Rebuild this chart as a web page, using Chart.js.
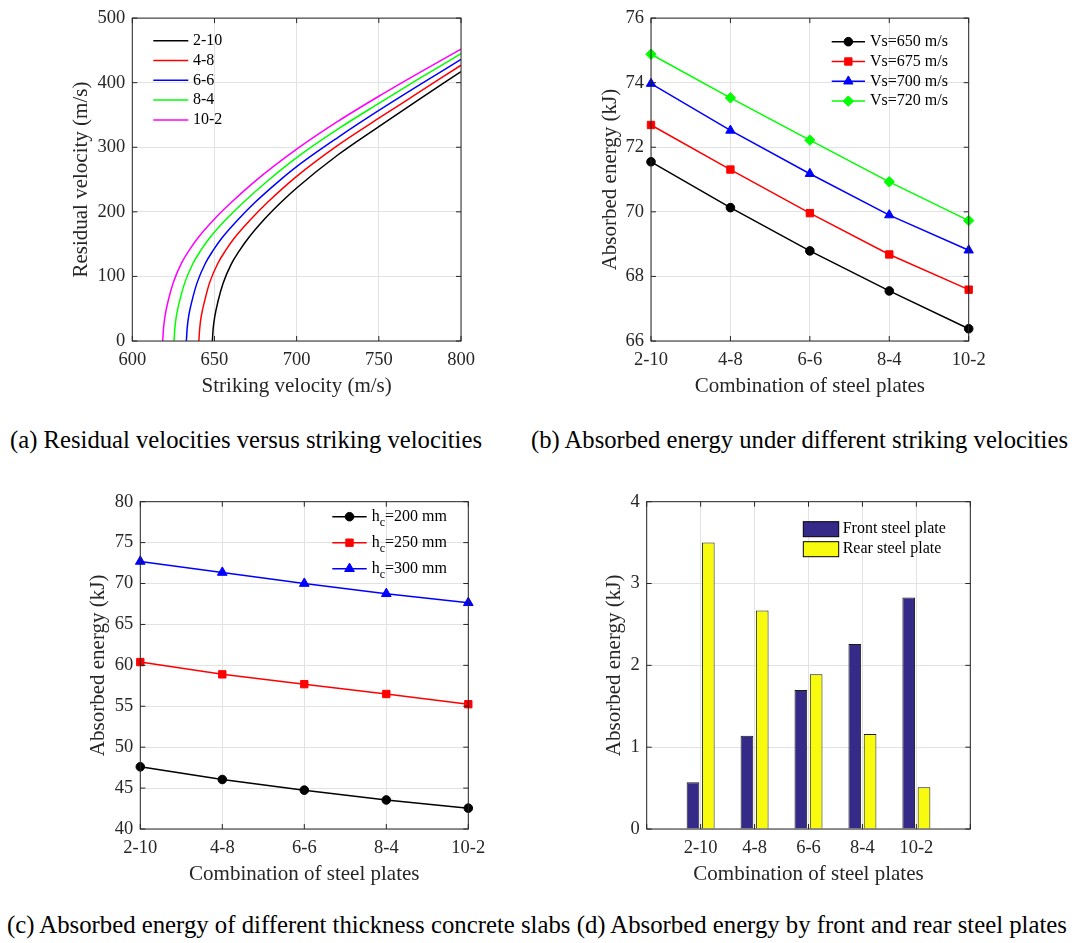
<!DOCTYPE html>
<html>
<head>
<meta charset="utf-8">
<script src="https://cdn.jsdelivr.net/npm/chart.js@4.4.1/dist/chart.umd.min.js"></script>
<style>
  body { margin: 0; background: #fff; }
  #wrap { position: relative; width: 1072px; height: 943px; overflow: hidden; }
  canvas { position: absolute; }
  .cap { position: absolute; font-family: "Liberation Serif", "Times New Roman", serif; font-size: 25px; line-height: 25px; font-weight: normal; color: #000; white-space: nowrap; transform-origin: 0 50%; }
</style>
</head>
<body>
<div id="wrap">
  <canvas id="chartA" width="520" height="400" style="left:0;top:0"></canvas>
  <canvas id="chartB" width="542" height="400" style="left:530px;top:0"></canvas>
  <canvas id="chartC" width="520" height="420" style="left:0;top:480px"></canvas>
  <canvas id="chartD" width="542" height="420" style="left:530px;top:480px"></canvas>
  <div class="cap" data-w="472" style="left:10px;top:427px">(a) Residual velocities versus striking velocities</div>
  <div class="cap" data-w="537" style="left:531px;top:427px">(b) Absorbed energy under different striking velocities</div>
  <div class="cap" data-w="1060" style="left:7px;top:912px">(c) Absorbed energy of different thickness concrete slabs (d) Absorbed energy by front and rear steel plates</div>
</div>
<script>
// ---- data ----
const combos = ['2-10', '4-8', '6-6', '8-4', '10-2'];

// (a) residual velocity vs striking velocity, m/s
const vs_2_10 = [648.7, 649.2, 650.2, 652.2, 655.2, 660.2, 665.2, 670.2, 680.2, 690.2, 700, 725, 750, 775, 800];
const vr_2_10 = [0, 19, 38, 62, 89, 119, 140, 158, 188, 214, 237, 288, 332, 375, 417];
const vs_4_8 = [640.5, 641, 642, 644, 647, 652, 657, 662, 672, 682, 700, 725, 750, 775, 800];
const vr_4_8 = [0, 19, 39, 62, 90, 120, 141, 159, 188, 214, 255, 303, 345, 386, 427];
const vs_6_6 = [632.9, 633.4, 634.4, 636.4, 639.4, 644.4, 649.4, 654.4, 664.4, 674.4, 689.4, 700, 725, 750, 775, 800];
const vr_6_6 = [0, 20, 40, 63, 90, 120, 141, 159, 188, 214, 248, 270, 315, 357, 397, 436];
const vs_8_4 = [625.4, 625.9, 626.9, 628.9, 631.9, 636.9, 641.9, 646.9, 656.9, 666.9, 681.9, 700, 725, 750, 775, 800];
const vr_8_4 = [0, 20, 40, 63, 90, 120, 141, 159, 188, 213, 247, 284, 328, 368, 407, 445];
const vs_10_2 = [618.5, 619, 620, 622, 625, 630, 635, 640, 650, 660, 675, 700, 725, 750, 775, 800];
const vr_10_2 = [0, 20, 40, 64, 91, 121, 142, 160, 189, 214, 248, 297, 340, 379, 416, 452];

// (b) absorbed energy (kJ) for each striking velocity
const e650 = [71.55, 70.13, 68.79, 67.55, 66.38];
const e675 = [72.69, 71.31, 69.96, 68.68, 67.59];
const e700 = [73.97, 72.52, 71.18, 69.90, 68.81];
const e720 = [74.88, 73.53, 72.22, 70.93, 69.73];

// (c) absorbed energy (kJ) for each slab thickness
const hc200 = [47.6, 46.05, 44.75, 43.55, 42.55];
const hc250 = [60.4, 58.9, 57.7, 56.5, 55.25];
const hc300 = [72.7, 71.35, 70.0, 68.75, 67.65];

// (d) energy absorbed by each plate (kJ)
const frontE = [0.57, 1.14, 1.70, 2.26, 2.83];
const rearE = [3.50, 2.67, 1.89, 1.16, 0.51];

// ---- styling ----
const FONT = '"Liberation Serif", "Times New Roman", serif';
const INK = '#262626';
const GRID = '#e2e2e2';
Chart.defaults.font.family = FONT;
Chart.defaults.color = INK;
Chart.defaults.animation = false;

// MATLAB-like box with inward ticks on all four sides
const axesBox = {
  id: 'axesBox',
  afterDraw(chart) {
    const { ctx, chartArea: a, scales } = chart;
    const L = 5;
    ctx.save();
    ctx.strokeStyle = INK;
    ctx.lineWidth = 1;
    ctx.strokeRect(a.left, a.top, a.right - a.left, a.bottom - a.top);
    ctx.beginPath();
    scales.x.ticks.forEach((t, i) => {
      const px = scales.x.getPixelForTick(i);
      ctx.moveTo(px, a.bottom); ctx.lineTo(px, a.bottom - L);
      ctx.moveTo(px, a.top); ctx.lineTo(px, a.top + L);
    });
    scales.y.ticks.forEach((t, i) => {
      const py = scales.y.getPixelForTick(i);
      ctx.moveTo(a.left, py); ctx.lineTo(a.left + L, py);
      ctx.moveTo(a.right, py); ctx.lineTo(a.right - L, py);
    });
    ctx.stroke();
    ctx.restore();
  }
};

// legend drawn inside the axes, MATLAB style
const inLegend = {
  id: 'inLegend',
  afterDraw(chart, args, o) {
    const ctx = chart.ctx;
    ctx.save();
    ctx.textBaseline = 'middle';
    chart.data.datasets.forEach((ds, i) => {
      const y = o.y + i * o.dy;
      if (o.patch) {
        ctx.fillStyle = ds.backgroundColor;
        ctx.fillRect(o.x0, y - 7.5, o.x1 - o.x0, 15);
        ctx.strokeStyle = '#000';
        ctx.lineWidth = 1;
        ctx.strokeRect(o.x0, y - 7.5, o.x1 - o.x0, 15);
      } else {
        ctx.strokeStyle = ds.borderColor;
        ctx.lineWidth = ds.borderWidth;
        ctx.beginPath();
        ctx.moveTo(o.x0, y); ctx.lineTo(o.x1, y);
        ctx.stroke();
        if (ds.pointRadius) {
          ctx.fillStyle = ds.pointBackgroundColor;
          ctx.strokeStyle = ds.pointBorderColor;
          ctx.lineWidth = 1;
          Chart.helpers.drawPoint(ctx, { pointStyle: ds.pointStyle, radius: ds.pointRadius, borderWidth: 1, rotation: 0 }, (o.x0 + o.x1) / 2, y);
        }
      }
      ctx.fillStyle = '#000';
      ctx.font = '16px ' + FONT;
      let x = o.tx;
      if (o.sub) {
        // first char, subscript char, rest
        ctx.fillText(ds.label[0], x, y);
        x += ctx.measureText(ds.label[0]).width;
        ctx.font = '12px ' + FONT;
        ctx.fillText(ds.label[1], x, y + 6);
        x += ctx.measureText(ds.label[1]).width;
        ctx.font = '16px ' + FONT;
        ctx.fillText(ds.label.slice(2), x, y);
      } else {
        ctx.fillText(ds.label, x, y);
      }
    });
    ctx.restore();
  }
};

function yAxis(min, max, step, title, width, titlePad) {
  return {
    type: 'linear', min: min, max: max,
    ticks: { stepSize: step, padding: 7, font: { size: 18.5 }, color: INK },
    grid: { color: GRID, drawTicks: false },
    border: { display: false },
    title: { display: true, text: title, font: { size: 21 }, color: INK, padding: { top: titlePad, bottom: 0 } },
    afterFit: s => { s.width = width; }
  };
}

function xAxis(extra, title, height, titlePad) {
  return Object.assign({
    ticks: { padding: 8, font: { size: 18.5 }, color: INK, autoSkip: false, maxRotation: 0 },
    grid: { color: GRID, drawTicks: false, offset: false },
    border: { display: false },
    title: { display: true, text: title, font: { size: 21 }, color: INK, padding: { top: 0, bottom: titlePad } },
    afterFit: s => { s.height = height; }
  }, extra);
}

function basePlugins(legend) {
  return { legend: { display: false }, tooltip: { enabled: false }, inLegend: legend };
}

// ---- (a) ----
const curvesA = [
  ['2-10', vs_2_10, vr_2_10, '#000000'],
  ['4-8', vs_4_8, vr_4_8, '#ff0000'],
  ['6-6', vs_6_6, vr_6_6, '#0000ff'],
  ['8-4', vs_8_4, vr_8_4, '#00ff00'],
  ['10-2', vs_10_2, vr_10_2, '#ff00ff']
];
new Chart(document.getElementById('chartA'), {
  type: 'line',
  data: {
    datasets: curvesA.map(c => ({
      label: c[0],
      data: c[1].map((x, i) => ({ x: x, y: c[2][i] })),
      borderColor: c[3], borderWidth: 1.5, pointRadius: 0,
      cubicInterpolationMode: 'monotone', fill: false
    }))
  },
  options: {
    responsive: false,
    layout: { padding: { left: 0, top: 13.3, right: 59, bottom: 0 } },
    scales: {
      x: xAxis({ type: 'linear', min: 600, max: 800, ticks: { stepSize: 50, padding: 8, font: { size: 18.5 }, color: INK } }, 'Striking velocity (m/s)', 59, 0.7),
      y: yAxis(0, 500, 100, 'Residual velocity (m/s)', 132.3, 69.1)
    },
    plugins: basePlugins({ x0: 153.3, x1: 188.3, tx: 193, y: 40.7, dy: 19.8 })
  },
  plugins: [axesBox, inLegend]
});

// ---- (b) ----
const seriesB = [
  ['Vs=650 m/s', e650, '#000000', 'circle', 4.3],
  ['Vs=675 m/s', e675, '#ff0000', 'rect', 5.2],
  ['Vs=700 m/s', e700, '#0000ff', 'triangle', 5.4],
  ['Vs=720 m/s', e720, '#00ff00', 'rectRot', 5.2]
];
new Chart(document.getElementById('chartB'), {
  type: 'line',
  data: {
    labels: combos,
    datasets: seriesB.map(s => ({
      label: s[0], data: s[1],
      borderColor: s[2], borderWidth: 1.5,
      pointStyle: s[3], pointRadius: s[4], pointBorderWidth: 1,
      pointBackgroundColor: s[2], pointBorderColor: s[2],
      tension: 0, fill: false, clip: false
    }))
  },
  options: {
    responsive: false,
    layout: { padding: { left: 0, top: 13.3, right: 103.3, bottom: 0 } },
    scales: {
      x: xAxis({ type: 'category', offset: false }, 'Combination of steel plates', 59, 0.7),
      y: yAxis(66, 76, 2, 'Absorbed energy (kJ)', 121, 67.4)
    },
    plugins: basePlugins({ x0: 301.7, x1: 335, tx: 340, y: 41.7, dy: 19.8 })
  },
  plugins: [axesBox, inLegend]
});

// ---- (c) ----
const seriesC = [
  ['hc=200 mm', hc200, '#000000', 'circle', 4.3],
  ['hc=250 mm', hc250, '#ff0000', 'rect', 5.2],
  ['hc=300 mm', hc300, '#0000ff', 'triangle', 5.6]
];
new Chart(document.getElementById('chartC'), {
  type: 'line',
  data: {
    labels: combos,
    datasets: seriesC.map(s => ({
      label: s[0], data: s[1],
      borderColor: s[2], borderWidth: 1.5,
      pointStyle: s[3], pointRadius: s[4], pointBorderWidth: 1,
      pointBackgroundColor: s[2], pointBorderColor: s[2],
      tension: 0, fill: false, clip: false
    }))
  },
  options: {
    responsive: false,
    layout: { padding: { left: 0, top: 21.7, right: 51.7, bottom: 0 } },
    scales: {
      x: xAxis({ type: 'category', offset: false }, 'Combination of steel plates', 71, 13.1),
      y: yAxis(40, 80, 5, 'Absorbed energy (kJ)', 140.3, 85.7)
    },
    plugins: basePlugins({ x0: 332.3, x1: 366.7, tx: 371.7, y: 36.7, dy: 26, sub: true })
  },
  plugins: [axesBox, inLegend]
});

// ---- (d) ----
new Chart(document.getElementById('chartD'), {
  type: 'bar',
  data: {
    labels: [''].concat(combos, ['']),
    datasets: [
      { label: 'Front steel plate', data: [null].concat(frontE, [null]), backgroundColor: '#352a87', borderColor: '#1a1a1a', borderWidth: 1 },
      { label: 'Rear steel plate', data: [null].concat(rearE, [null]), backgroundColor: '#f9fb0e', borderColor: '#1a1a1a', borderWidth: 1 }
    ]
  },
  options: {
    responsive: false,
    categoryPercentage: 0.567,
    barPercentage: 0.83,
    layout: { padding: { left: 0, top: 21.7, right: 101.7, bottom: 0 } },
    scales: {
      x: xAxis({ type: 'category', offset: false }, 'Combination of steel plates', 71, 13.1),
      y: yAxis(0, 4, 1, 'Absorbed energy (kJ)', 116.7, 71.4)
    },
    plugins: basePlugins({ x0: 273.3, x1: 308.7, tx: 312.7, y: 49.2, dy: 20, patch: true })
  },
  plugins: [axesBox, inLegend]
});

// captions: fit to the widths seen in the figure
document.querySelectorAll('.cap').forEach(el => {
  const w = el.getBoundingClientRect().width;
  el.style.transform = 'scaleX(' + (el.dataset.w / w) + ')';
});
</script>
</body>
</html>
